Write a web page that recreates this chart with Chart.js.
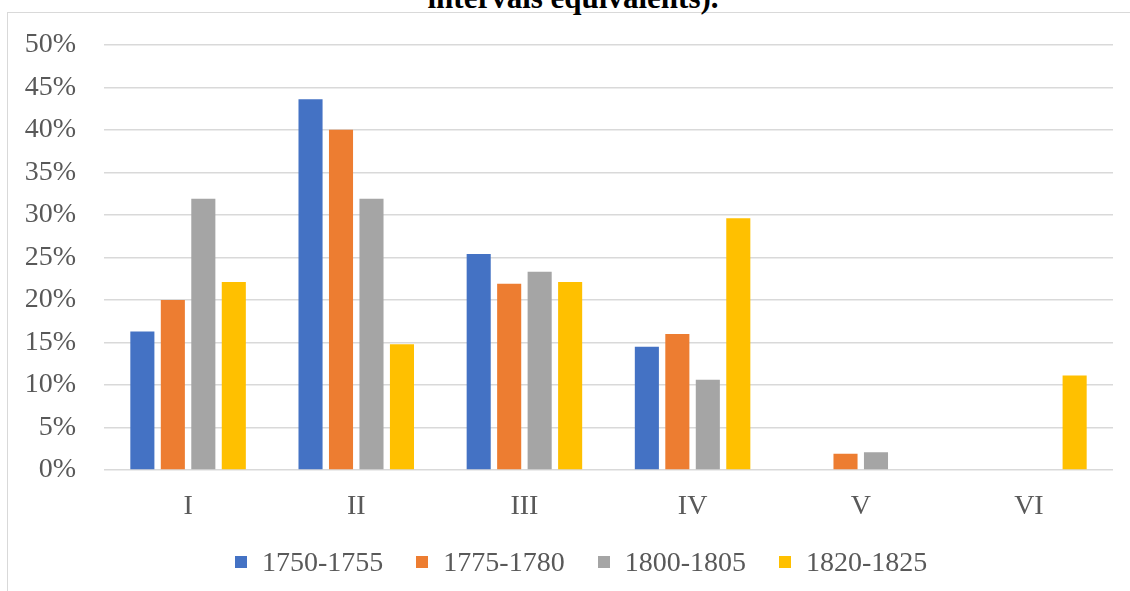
<!DOCTYPE html>
<html>
<head>
<meta charset="utf-8">
<script src="https://cdn.jsdelivr.net/npm/chart.js@4.4.0/dist/chart.umd.min.js"></script>
<style>
  html, body { margin: 0; padding: 0; background: #fff; overflow: hidden; }
  #wrap { position: relative; width: 1130px; height: 591px; }
  #frame { position: absolute; left: 7px; top: 12px; width: 1200px; height: 700px;
           border-left: 1px solid #d9d9d9; border-top: 1px solid #d9d9d9; }
  #title { position: absolute; left: 0; top: -17px; width: 1146px; text-align: center;
           font: bold 31px "Liberation Serif", serif; line-height: 30px; color: #000; }
  canvas { position: absolute; left: 0; top: 0; }
  #legend { position: absolute; left: 235px; top: 546px; height: 32px; display: flex; gap: 33px;
            align-items: center; font: 28px "Liberation Serif", serif; color: #595959; }
  #legend .item { display: flex; align-items: center; gap: 15px; white-space: nowrap; }
  #legend .box { width: 12px; height: 12px; }
</style>
</head>
<body>
<div id="wrap">
  <div id="frame"></div>
  <div id="title">intervals equivalents).</div>
  <canvas id="chart" width="1130" height="591"></canvas>
  <div id="legend"></div>
</div>
<script>
// categories and series (values in %)
const categories = ['I', 'II', 'III', 'IV', 'V', 'VI'];
const s1750 = [16.3, 43.6, 25.4, 14.5, 0, 0];
const s1775 = [20.0, 40.0, 21.9, 16.0, 1.9, 0];
const s1800 = [31.9, 31.9, 23.3, 10.6, 2.1, 0];
const s1820 = [22.1, 14.8, 22.1, 29.6, 0, 11.1];
const seriesLabels = ['1750-1755', '1775-1780', '1800-1805', '1820-1825'];
const seriesColors = ['#4472C4', '#ED7D31', '#A5A5A5', '#FFC000'];

const FONT = '"Liberation Serif", "Times New Roman", serif';
const TXT = '#595959';

const datasets = [s1750, s1775, s1800, s1820].map((d, i) => ({
    label: seriesLabels[i],
    data: d,
    backgroundColor: seriesColors[i],
    borderWidth: 0,
    categoryPercentage: 0.725,
    barPercentage: 0.79
}));

// legend as html, built from the series
const legendEl = document.getElementById('legend');
seriesLabels.forEach((lbl, i) => {
    const item = document.createElement('div');
    item.className = 'item';
    item.innerHTML = `<span class="box" style="background:${seriesColors[i]}"></span><span>${lbl}</span>`;
    legendEl.appendChild(item);
});

new Chart(document.getElementById('chart'), {
    type: 'bar',
    data: { labels: categories, datasets },
    options: {
        responsive: false,
        animation: false,
        layout: { padding: { left: 0, right: 17, top: 42, bottom: 61 } },
        plugins: {
            legend: { display: false },
            tooltip: { enabled: false }
        },
        scales: {
            x: {
                grid: { display: false },
                border: { display: false },
                ticks: { font: { family: FONT, size: 28 }, color: TXT, padding: 12 },
                afterFit: s => { s.height = 60; }
            },
            y: {
                min: 0,
                max: 50,
                ticks: {
                    stepSize: 5,
                    font: { family: FONT, size: 28 },
                    color: TXT,
                    padding: 28,
                    callback: v => v + '%'
                },
                grid: { color: '#d9d9d9', lineWidth: 1.5, drawTicks: false },
                border: { display: false },
                afterFit: s => { s.width = 104; }
            }
        }
    }
});
</script>
</body>
</html>
